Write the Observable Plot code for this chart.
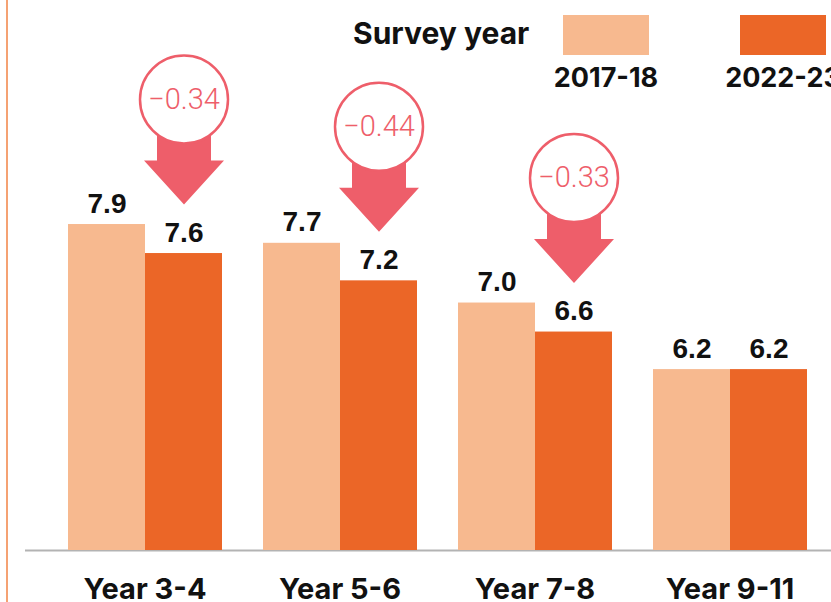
<!DOCTYPE html>
<html>
<head>
<meta charset="utf-8">
<script src="https://cdn.jsdelivr.net/npm/d3@7"></script>
<script src="https://cdn.jsdelivr.net/npm/@observablehq/plot@0.6"></script>
<style>
  html, body { margin: 0; padding: 0; background: #fff; }
  #wrap { position: relative; width: 831px; height: 602px; overflow: hidden; background: #fff; }
  #wrap svg { position: absolute; left: 0; top: 0; }
  .edge { position: absolute; left: 6px; top: 0; width: 2px; height: 602px; background: #f5a273; }
  .lg { position: absolute; font-family: Inter, sans-serif; font-weight: 700; color: #111; line-height: 30px; white-space: nowrap; }
  .sw { position: absolute; top: 15px; width: 86px; height: 40px; }
</style>
</head>
<body>
<div id="wrap">
  <div class="edge"></div>
</div>
<script>
const groups = ["Year 3-4", "Year 5-6", "Year 7-8", "Year 9-11"];
const years = ["2017-18", "2022-23"];
const values1718 = [7.9, 7.68, 6.98, 6.2];
const values2223 = [7.56, 7.24, 6.64, 6.2];
const changes = [-0.34, -0.44, -0.33, null];
const colors = ["#f7b98f", "#eb6627"];
const legendTitle = "Survey year";

const bars = groups.flatMap((g, i) => [
  {group: g, year: years[0], value: values1718[i]},
  {group: g, year: years[1], value: values2223[i]}
]);
const drops = groups
  .map((g, i) => ({group: g, year: years[1], value: values2223[i], change: changes[i]}))
  .filter(d => d.change != null);

const base = 4.08;
const red = "#ee5e6a";
const dims = {width: 831, height: 602, marginTop: 38, marginBottom: 52};
const yScale = {domain: [base, base + 6], axis: null};

const arrowSymbol = {
  draw(ctx, size) {
    const k = Math.sqrt(size / Math.PI) / 44;
    ctx.moveTo(0, 0);
    ctx.lineTo(40 * k, -44 * k);
    ctx.lineTo(27 * k, -44 * k);
    ctx.lineTo(27 * k, -92 * k);
    ctx.lineTo(-27 * k, -92 * k);
    ctx.lineTo(-27 * k, -44 * k);
    ctx.lineTo(-40 * k, -44 * k);
    ctx.closePath();
  }
};

// baseline layer (spans the full width, under the faceted chart)
const baseLayer = Plot.plot({
  ...dims,
  marginLeft: 25,
  marginRight: 0,
  style: {background: "transparent"},
  x: {domain: [0, 1], axis: null},
  y: yScale,
  marks: [Plot.ruleY([base], {stroke: "#b3b3b3", strokeWidth: 2})]
});

const chart = Plot.plot({
  ...dims,
  marginLeft: 27,
  marginRight: -16,
  style: {background: "transparent", overflow: "visible"},
  fx: {domain: groups, paddingInner: 0.205, paddingOuter: 0.205, label: null},
  x: {domain: years, padding: 0, axis: null},
  y: yScale,
  color: {domain: years, range: colors},
  marks: [
    Plot.barY(bars, {fx: "group", x: "year", y1: base, y2: "value", fill: "year"}),
    Plot.text(bars, {fx: "group", x: "year", y: "value", text: d => d.value.toFixed(1),
      dy: -12, lineAnchor: "bottom", fontSize: 28, fontWeight: "bold",
      fontFamily: "Liberation Sans, Arial, sans-serif", fill: "#111"}),
    Plot.dot(drops, {fx: "group", x: "year", y: "value", symbol: arrowSymbol, r: 44, dy: -49, fill: red, stroke: "none"}),
    Plot.dot(drops, {fx: "group", x: "year", y: "value", r: 44, dy: -154, fill: "white", stroke: red, strokeWidth: 2.5}),
    Plot.text(drops, {fx: "group", x: "year", y: "value", text: d => "\u2212" + Math.abs(d.change).toFixed(2),
      dy: -154, fontSize: 29, fontFamily: "Roboto, sans-serif", fontWeight: 300, fill: red}),
    Plot.axisFx({anchor: "bottom", tickSize: 0, tickPadding: 28, fontSize: 29, fontWeight: 700,
      fontFamily: "Inter, sans-serif", fill: "#111", label: null})
  ]
});

const wrap = document.getElementById("wrap");
wrap.appendChild(baseLayer);
wrap.appendChild(chart);

function addDiv(cls, style, text) {
  const d = document.createElement("div");
  d.className = cls;
  Object.assign(d.style, style);
  if (text) d.textContent = text;
  wrap.appendChild(d);
  return d;
}
addDiv("lg", {left: "353px", top: "18px", fontSize: "30px"}, legendTitle);
addDiv("sw", {left: "563px", background: colors[0]});
addDiv("sw", {left: "740px", background: colors[1]});
addDiv("lg", {left: "506px", width: "200px", textAlign: "center", top: "63px", fontSize: "27px"}, years[0]);
addDiv("lg", {left: "683px", width: "200px", textAlign: "center", top: "63px", fontSize: "27px"}, years[1]);
</script>
</body>
</html>
